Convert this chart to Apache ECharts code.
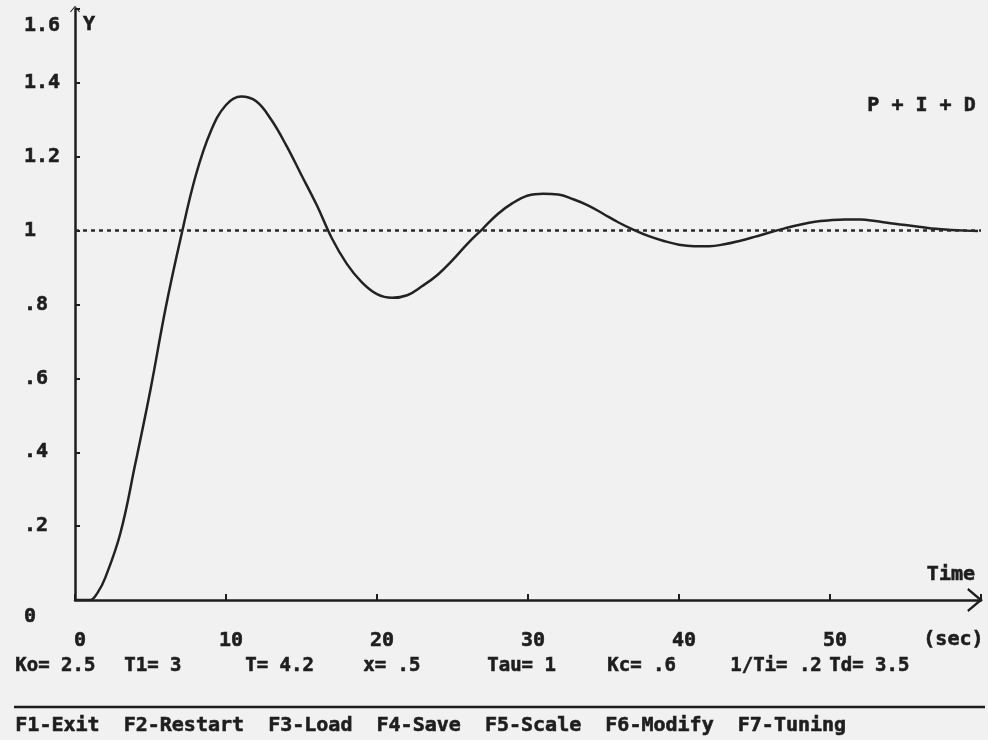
<!DOCTYPE html>
<html>
<head>
<meta charset="utf-8">
<script src="https://cdn.jsdelivr.net/npm/echarts@6/dist/echarts.min.js"></script>
<style>
  html, body { margin: 0; padding: 0; background: #f1f1f1; }
  #chart { width: 988px; height: 740px; }
</style>
</head>
<body>
<div id="chart"></div>
<script>
// step response (time in sec, output Y)
const timeSec = [0, 1, 1.5, 2, 3, 4, 5, 6, 7, 8, 9, 10, 11, 12, 13, 14, 15, 16, 17, 18, 19, 20,
  21, 22, 23, 24, 25, 26, 27, 28, 29, 30, 31, 32, 33, 34, 35, 36, 37, 38, 39, 40,
  41, 42, 43, 44, 45, 46, 47, 48, 49, 50, 51, 52, 53, 54, 55, 56, 57, 58, 59, 59.8]
const response = [0, 0, 0.02, 0.06, 0.18, 0.37, 0.57, 0.79, 0.98, 1.15, 1.27, 1.34, 1.363, 1.35, 1.30, 1.23, 1.15, 1.07, 0.98, 0.91, 0.86, 0.828,
  0.818, 0.825, 0.85, 0.88, 0.92, 0.965, 1.005, 1.045, 1.075, 1.095, 1.10, 1.098, 1.085, 1.068, 1.045, 1.022, 1.002, 0.985, 0.972, 0.962,
  0.958, 0.958, 0.963, 0.972, 0.983, 0.995, 1.006, 1.016, 1.024, 1.028, 1.03, 1.03, 1.026, 1.02, 1.015, 1.01, 1.005, 1.002, 1.0, 0.999]
const setpoint = 1
const yTickLabels = ['0', '.2', '.4', '.6', '.8', '1', '1.2', '1.4', '1.6']
const xTickLabels = ['0', '10', '20', '30', '40', '50', '']
const params = ['Ko= 2.5', 'T1= 3', 'T= 4.2', 'x= .5', 'Tau= 1', 'Kc= .6', '1/Ti= .2', 'Td= 3.5']
const paramX = [15, 124, 245, 363, 487, 607, 730, 829]
const fKeys = ['F1-Exit', 'F2-Restart', 'F3-Load', 'F4-Save', 'F5-Scale', 'F6-Modify', 'F7-Tuning']

const font = 'DejaVu Sans Mono'
const ink = '#1e1e1e'
// a thin outline in the same colour makes the glyphs look like the heavy screen font
const bold = { fontFamily: font, fontWeight: 'bold', fontSize: 20, color: ink, textBorderColor: ink, textBorderWidth: 0.6 }
const txt = { fontFamily: font, fontWeight: 'bold', fontSize: 20, fill: ink, stroke: ink, lineWidth: 0.6 }
const chevron = 'path://M0,12 L10,0 L20,12 L18.3,13 L10,3.2 L1.7,13 Z'

const chart = echarts.init(document.getElementById('chart'))

const graphic = [
  { type: 'text', right: 12, top: 95, style: Object.assign({ text: 'P + I + D' }, txt) },
  { type: 'text', left: 923, top: 629, style: Object.assign({ text: '(sec)' }, txt) },
  { type: 'line', shape: { x1: 14, y1: 707, x2: 985, y2: 707 }, style: { stroke: ink, lineWidth: 2.5 } },
  { type: 'text', left: 15, top: 715, style: Object.assign({ text: fKeys.join('  ') }, txt) }
]
params.forEach(function (p, i) {
  graphic.push({ type: 'text', left: paramX[i], top: 656, style: Object.assign({ text: p }, txt, { fontSize: 19 }) })
})

const option = {
  backgroundColor: '#f1f1f1',
  animation: false,
  grid: { left: 75, right: 7, top: 9, bottom: 140 },
  xAxis: {
    type: 'value',
    min: 0,
    max: 60,
    interval: 10,
    name: 'Time',
    nameLocation: 'end',
    nameGap: -6,
    nameTextStyle: Object.assign({ align: 'right', verticalAlign: 'bottom', padding: [0, 0, 15, 0] }, bold),
    splitLine: { show: false },
    axisLine: {
      lineStyle: { color: ink, width: 2.5 },
      symbol: ['none', chevron],
      symbolSize: [24, 16],
      symbolOffset: [0, -6]
    },
    axisTick: { inside: true, length: 6, lineStyle: { color: ink, width: 2 } },
    axisLabel: Object.assign({
      margin: 31,
      padding: [0, 0, 0, 10],
      formatter: function (v) { return xTickLabels[Math.round(v / 10)] }
    }, bold)
  },
  yAxis: {
    type: 'value',
    min: 0,
    max: 1.6,
    interval: 0.2,
    name: 'Y',
    nameLocation: 'end',
    nameGap: -16,
    nameTextStyle: Object.assign({ align: 'left', verticalAlign: 'middle', padding: [0, 0, 0, 8] }, bold),
    splitLine: { show: false },
    axisLine: {
      lineStyle: { color: ink, width: 2.5 },
      symbol: ['none', chevron],
      symbolSize: [10, 7]
    },
    axisTick: { inside: true, length: 5, lineStyle: { color: ink, width: 2 } },
    axisLabel: Object.assign({
      margin: 51,
      align: 'left',
      formatter: function (v) {
        const i = Math.round(v / 0.2)
        if (i === 0 || i === 8) return '{low|' + yTickLabels[i] + '}'
        return yTickLabels[i]
      },
      rich: {
        low: Object.assign({ padding: [33, 0, 0, 0] }, bold)
      }
    }, bold)
  },
  series: [
    {
      type: 'line',
      data: timeSec.map(function (t, i) { return [t, response[i]] }),
      showSymbol: false,
      smooth: 0.4,
      lineStyle: { color: '#222', width: 2.5 },
      markLine: {
        silent: true,
        symbol: ['none', 'none'],
        label: { show: false },
        lineStyle: { color: '#2a2a2a', width: 2.5, type: [4, 4] },
        data: [{ yAxis: setpoint }]
      }
    }
  ],
  graphic: graphic
}

chart.setOption(option)
</script>
</body>
</html>
